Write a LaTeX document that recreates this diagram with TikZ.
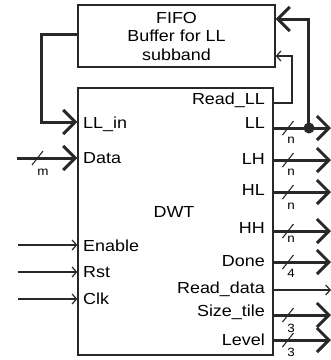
\documentclass[tikz,border=0pt]{standalone}
\usepackage{fontspec}
\setmainfont{Liberation Sans}[FakeStretch=1.12]
\usepackage{tikz}
\usetikzlibrary{arrows.meta,positioning,calc}
\definecolor{wire}{RGB}{40,40,40}

\begin{document}
\begin{tikzpicture}[x=1pt,y=-1pt,
    font=\fontsize{16}{18.5}\selectfont,
    block/.style={draw=wire, line width=1.3pt, inner sep=0pt},
    bus/.style={wire, line width=3pt, -{Straight Barb[length=12pt,width=24pt]}},
    sig/.style={wire, line width=1.2pt, -{Straight Barb[length=4.5pt,width=10pt]}},
    slashmark/.style={wire, line width=1.1pt},
    widthlbl/.style={font=\fontsize{12}{13}\selectfont, inner sep=0pt},
    portl/.style={anchor=west, inner sep=0pt},
    portr/.style={anchor=east, inner sep=0pt}]
  \useasboundingbox (0,0) rectangle (331,360);
  % the two blocks
  \node[block, minimum width=197pt, minimum height=62pt, align=center]
    (fifo) at (176.5,36) {FIFO\\Buffer for LL\\subband};
  \node[block, minimum width=195pt, minimum height=267pt] (dwt) at (175.5,221.5) {};
  \node (dwtlbl) at (174,212) {DWT};
  % left side ports
  \node[portl] (pllin) at (83,124) {LL\_in};
  \node[portl] (pdata) at (83,158) {Data};
  \node[portl] (pen) at (83,246) {Enable};
  \node[portl] (prst) at (83,272) {Rst};
  \node[portl] (pclk) at (83,299) {Clk};
  % right side ports
  \node[portr] (prdll) at (265,100) {Read\_LL};
  \node[portr] (pll) at (265,123) {LL};
  \node[portr] (plh) at (265,159) {LH};
  \node[portr] (phl) at (265,190) {HL};
  \node[portr] (phh) at (265,228) {HH};
  \node[portr] (pdone) at (265,261) {Done};
  \node[portr] (prddata) at (265,289) {Read\_data};
  \node[portr] (psize) at (265,312) {Size\_tile};
  \node[portr] (plevel) at (265,340) {Level};
  % LL feedback into the buffer and back into the transform
  \coordinate (fbleft) at (42,34);
  \coordinate (fbtop) at (309,19);
  \coordinate (rdturn) at (292,56);
  \draw[bus] (fifo.west |- fbleft) -- (fbleft) |- (dwt.west |- 0,122);
  \draw[sig] (dwt.east |- 0,103) -| (rdturn) -- (fifo.east |- rdturn);
  \coordinate (lldot) at (309,128);
  \draw[bus] (lldot) -- (fbtop) -- (fifo.east |- fbtop);
  \fill[wire] (lldot) circle (5.5pt);
  % inputs
  \coordinate (indata) at (17,158);
  \draw[bus] (indata) -- (dwt.west |- indata);
  \draw[slashmark] (32,165) -- (43,151);
  \node[widthlbl] (wm) at (43,172) {m};
  \foreach \nm/\y in {en/245, rst/272, clk/299} {
    \coordinate (in\nm) at (18,\y);
    \draw[sig] (in\nm) -- (dwt.west |- in\nm);
  }
  % outputs with bus widths
  \foreach \nm/\y/\w/\dy in {ll/128/n/12, lh/160/n/12, hl/192/n/14, hh/231/n/8,
      done/262/4/11, size/315/3/13, level/340/3/12} {
    \coordinate (o\nm) at (331,\y);
    \draw[bus] (dwt.east |- o\nm) -- (o\nm);
    \draw[slashmark] (282.5,\y+7) -- (293.5,\y-7);
    \node[widthlbl] (w\nm) at (291,\y+\dy) {\w};
  }
  \coordinate (ordata) at (331,290);
  \draw[sig] (dwt.east |- ordata) -- (ordata);
\end{tikzpicture}
\end{document}
